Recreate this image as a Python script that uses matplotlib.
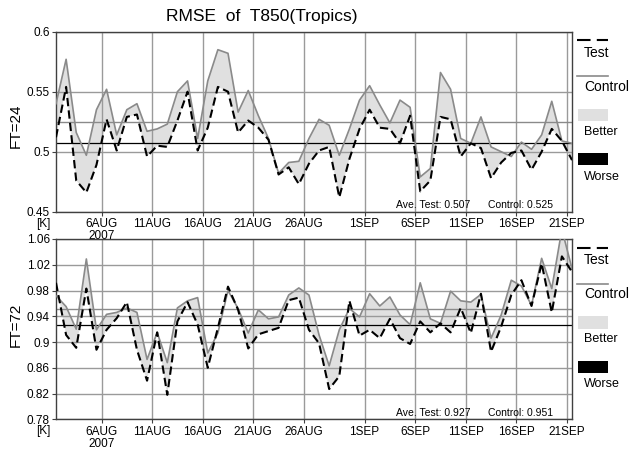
import matplotlib.pyplot as plt
from matplotlib.lines import Line2D
from matplotlib.patches import Rectangle
import pandas as pd

plt.rcParams['font.family'] = ['Liberation Sans', 'DejaVu Sans']

# daily 12Z verification, 1 Aug - 21 Sep 2007
dates = pd.date_range('2007-08-01 12:00', '2007-09-21 12:00', freq='D')

# FT=24
test_24 = [0.512, 0.554, 0.476, 0.466, 0.489, 0.527, 0.501, 0.529, 0.531, 0.496,
           0.505, 0.504, 0.526, 0.550, 0.501, 0.520, 0.554, 0.550, 0.516, 0.526,
           0.520, 0.510, 0.481, 0.487, 0.473, 0.490, 0.501, 0.504, 0.462, 0.494,
           0.519,
           0.535, 0.520, 0.519, 0.507, 0.530, 0.467, 0.476, 0.529, 0.527, 0.496,
           0.507, 0.503, 0.478, 0.491, 0.499, 0.501, 0.485, 0.500, 0.519, 0.509,
           0.493]
ctrl_24 = [0.540, 0.577, 0.516, 0.497, 0.535, 0.552, 0.514, 0.535, 0.540, 0.517,
           0.519, 0.523, 0.550, 0.559, 0.511, 0.559, 0.585, 0.582, 0.533, 0.551,
           0.530, 0.511, 0.482, 0.491, 0.492, 0.511, 0.527, 0.522, 0.497, 0.519,
           0.543,
           0.555, 0.539, 0.524, 0.543, 0.537, 0.479, 0.486, 0.566, 0.552, 0.511,
           0.507, 0.529, 0.504, 0.500, 0.496, 0.508, 0.502, 0.514, 0.542, 0.509,
           0.507]

# FT=72
test_72 = [0.992, 0.911, 0.891, 0.983, 0.888, 0.919, 0.937, 0.962, 0.888, 0.840,
           0.915, 0.818, 0.932, 0.962, 0.927, 0.860, 0.922, 0.986, 0.950, 0.890,
           0.912, 0.917, 0.922, 0.965, 0.969, 0.919, 0.898, 0.827, 0.847, 0.964,
           0.910,
           0.919, 0.906, 0.936, 0.906, 0.897, 0.932, 0.915, 0.929, 0.915, 0.953,
           0.914, 0.975, 0.885, 0.924, 0.973, 0.996, 0.956, 1.022, 0.946, 1.033,
           1.009]
ctrl_72 = [0.972, 0.955, 0.920, 1.029, 0.919, 0.943, 0.946, 0.953, 0.946, 0.873,
           0.915, 0.868, 0.953, 0.964, 0.969, 0.883, 0.914, 0.980, 0.952, 0.914,
           0.950, 0.936, 0.939, 0.973, 0.984, 0.973, 0.911, 0.863, 0.919, 0.952,
           0.939,
           0.975, 0.956, 0.970, 0.942, 0.927, 0.992, 0.936, 0.929, 0.979, 0.964,
           0.962, 0.974, 0.906, 0.942, 0.996, 0.987, 0.957, 1.030, 0.983, 1.075,
           1.014]

# averages printed on the chart (test, control)
ave_24 = (0.507, 0.525)
ave_72 = (0.927, 0.951)

yticks_24 = [0.45, 0.5, 0.55, 0.6]
yticks_72 = [0.78, 0.82, 0.86, 0.9, 0.94, 0.98, 1.02, 1.06]

tick_days = pd.to_datetime(['2007-08-06', '2007-08-11', '2007-08-16', '2007-08-21',
                            '2007-08-26', '2007-09-01', '2007-09-06', '2007-09-11',
                            '2007-09-16', '2007-09-21'])
tick_labels = ['6AUG\n2007', '11AUG', '16AUG', '21AUG', '26AUG',
               '1SEP', '6SEP', '11SEP', '16SEP', '21SEP']

W, H = 631, 450
fig = plt.figure(figsize=(W / 100, H / 100), dpi=100)

def fx(x):
    return x / W

def fy(y):
    return 1 - y / H

panels = [
    # (top px, bottom px, label, label y, test, control, averages, yticks)
    (31.7, 211.7, 'FT=24', 126, test_24, ctrl_24, ave_24, yticks_24),
    (239.0, 419.3, 'FT=72', 325, test_72, ctrl_72, ave_72, yticks_72),
]

for top, bot, name, name_y, test, ctrl, ave, yt in panels:
    ax = fig.add_axes([fx(56), fy(bot), 516 / W, (bot - top) / H])
    ax.set_xlim(dates[0], dates[-1])
    ax.set_ylim(yt[0], yt[-1])

    # better = test below control
    ax.fill_between(dates, test, ctrl, where=[c >= t for t, c in zip(test, ctrl)],
                    interpolate=True, facecolor='#e0e0e0', edgecolor='none', zorder=1)
    ax.set_axisbelow('line')
    ax.grid(True, color='#9a9a9a', linewidth=1)

    ax.axhline(ave[1], color='#8a8a8a', linewidth=1, zorder=2)
    ax.axhline(ave[0], color='black', linewidth=0.9, zorder=2)

    ax.plot(dates, ctrl, color='#8a8a8a', linewidth=1.2, zorder=3)
    ax.plot(dates, test, color='black', linewidth=1.5, linestyle=(0, (4, 2)), zorder=4)

    ax.set_yticks(yt)
    ax.set_yticklabels(['%g' % v for v in yt])
    ax.set_xticks(tick_days)
    ax.set_xticklabels(tick_labels)
    ax.tick_params(axis='y', direction='out', length=3, pad=1.5, labelsize=8.5,
                   color='#404040')
    ax.tick_params(axis='x', direction='out', length=3, pad=1.5, labelsize=8.5,
                   color='#404040')
    for lab in ax.get_xticklabels():
        lab.set_linespacing(1.05)
    for s in ax.spines.values():
        s.set_color('#404040')
        s.set_linewidth(1)

    ax.text(0.659, 0.035, 'Ave. Test: %.3f' % ave[0], transform=ax.transAxes,
            fontsize=7.5, va='center', ha='left')
    ax.text(0.837, 0.035, 'Control: %.3f' % ave[1], transform=ax.transAxes,
            fontsize=7.5, va='center', ha='left')

    fig.text(fx(16), fy(name_y), name, rotation=90, fontsize=11,
             ha='center', va='center')
    fig.text(fx(43), fy(bot + 12), '[K]', fontsize=8.5, ha='center', va='center')

    # legend column on the right
    fig.add_artist(Line2D([fx(577), fx(608)], [fy(top + 8.5)] * 2, color='black',
                          linewidth=1.5, linestyle=(0, (6.5, 3))))
    fig.text(fx(584), fy(top + 21.5), 'Test', fontsize=10, va='center')
    fig.add_artist(Line2D([fx(577), fx(608)], [fy(top + 44.5)] * 2,
                          color='#8a8a8a', linewidth=1.2))
    fig.text(fx(584), fy(top + 55.5), 'Control', fontsize=10, va='center')
    fig.add_artist(Rectangle((fx(578), fy(top + 89.5)), 30 / W, 12.5 / H,
                             transform=fig.transFigure, facecolor='#e0e0e0',
                             edgecolor='none'))
    fig.text(fx(584), fy(top + 100.5), 'Better', fontsize=9, va='center')
    fig.add_artist(Rectangle((fx(578), fy(top + 133.5)), 30 / W, 12 / H,
                             transform=fig.transFigure, facecolor='black',
                             edgecolor='none'))
    fig.text(fx(584), fy(top + 145), 'Worse', fontsize=9, va='center')

fig.text(fx(262), fy(16), 'RMSE  of  T850(Tropics)', fontsize=12.5,
         ha='center', va='center')

fig.savefig('out.png', dpi=100)
